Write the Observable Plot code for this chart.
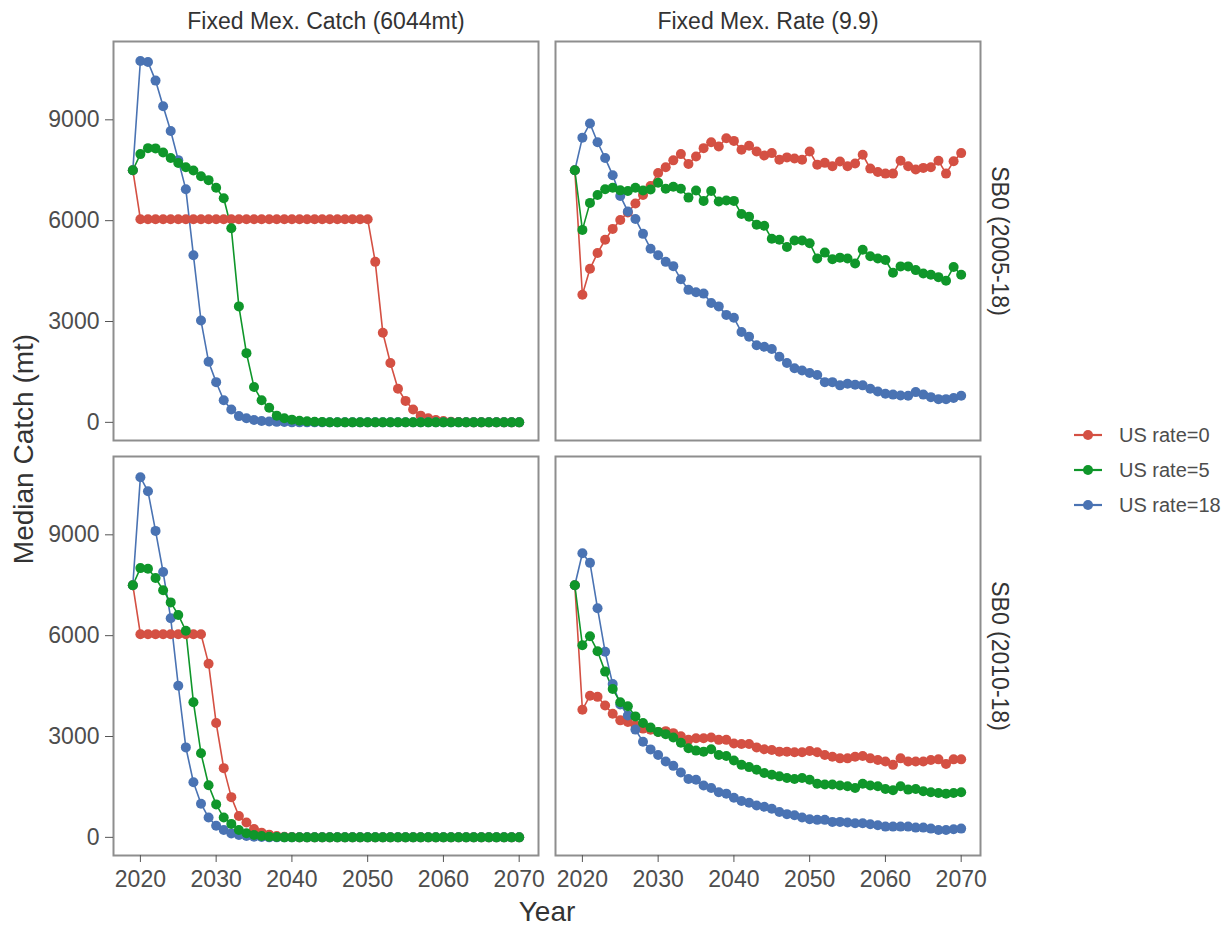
<!DOCTYPE html>
<html>
<head>
<meta charset="utf-8">
<script src="https://cdn.jsdelivr.net/npm/d3@7"></script>
<script src="https://cdn.jsdelivr.net/npm/@observablehq/plot@0.6"></script>
<style>
  html, body { margin: 0; padding: 0; background: #fff; }
  #wrap { position: relative; width: 1230px; height: 930px; font-family: "Liberation Sans", Arial, sans-serif; }
  #chart { position: absolute; left: 0; top: 0; }
  .ytitle { position: absolute; left: 24px; top: 449px; transform: translate(-50%, -50%) rotate(-90deg); font-size: 28px; line-height: 32px; color: #333; white-space: nowrap; }
  .xtitle { position: absolute; left: 547px; top: 912px; transform: translate(-50%, -50%); font-size: 28px; line-height: 32px; color: #333; white-space: nowrap; }
  #legend { position: absolute; left: 1074px; top: 417.5px; }
  .item { display: flex; align-items: center; height: 35px; font-size: 20px; color: #4d4d4d; }
  .item svg { margin-right: 17px; display: block; }
</style>
</head>
<body>
<div id="wrap">
  <div id="chart"></div>
  <div class="ytitle">Median Catch (mt)</div>
  <div class="xtitle">Year</div>
  <div id="legend"></div>
</div>
<script>
// ---- categories ----
const mexLabels = ["Fixed Mex. Catch (6044mt)", "Fixed Mex. Rate (9.9)"];
const sb0Labels = ["SB0 (2005-18)", "SB0 (2010-18)"];
const usLabels = ["US rate=0", "US rate=5", "US rate=18"];
const colors = ["#d45043", "#0f962a", "#4a73b3"];
const years = d3.range(2019, 2071);
const xTicks = [2020, 2030, 2040, 2050, 2060, 2070];
const yTicks = [0, 3000, 6000, 9000];

// ---- series values (2019..2070) ----
// Fixed Mex. Catch, SB0 (2005-18)
const catch05_us0 = [7500,
  6044,6044,6044,6044,6044,6044,6044,6044,6044,6044,
  6044,6044,6044,6044,6044,6044,6044,6044,6044,6044,
  6044,6044,6044,6044,6044,6044,6044,6044,6044,6044,6044,
  4774,2667,1765,1000,638,382,200,120,70,40,20,10,
  0,0,0,0,0,0,0,0];
const catch05_us5 = [7500,7980,8157,8150,8030,7862,7715,7588,7490,7323,
  7205,6980,6667,5774,3450,2059,1050,657,432,200,
  120,80,50,30,20,10,
  0,0,0,0,0,0,0,0,0,0,0,0,0,0,0,0,0,0,0,0,0,0,0,0,0,0];
const catch05_us18 = [7500,10750,10720,10167,9402,8667,7800,6932,4970,3029,
  1804,1196,657,382,186,120,70,40,25,15,10,
  0,0,0,0,0,0,0,0,0,0,0,0,0,0,0,0,0,0,0,0,0,0,0,0,0,0,0,0,0,0,0];
// Fixed Mex. Rate, SB0 (2005-18)
const rate05_us0 = [7500,3794,4568,5038,5431,5755,6020,6245,6510,6764,
  7029,7420,7588,7794,7980,7685,7911,8157,8333,8206,
  8450,8373,8108,8226,8058,7941,8010,7814,7882,7850,
  7814,8058,7667,7720,7617,7760,7617,7700,7961,7549,
  7450,7400,7400,7785,7617,7520,7570,7590,7785,7400,
  7765,8010];
const rate05_us5 = [7500,5725,6529,6764,6932,6980,6902,6880,6980,6900,
  6930,7127,6950,7010,6950,6686,6900,6588,6880,6570,
  6600,6588,6196,6120,5882,5850,5460,5430,5215,5410,
  5410,5330,4872,5050,4850,4900,4872,4725,5137,4940,
  4872,4830,4450,4640,4640,4529,4430,4390,4320,4215,
  4620,4390];
const rate05_us18 = [7500,8470,8892,8333,7862,7353,6735,6274,6050,5608,
  5167,4970,4774,4647,4255,3941,3870,3830,3550,3450,
  3197,3110,2686,2550,2294,2250,2180,1951,1765,1608,
  1540,1470,1410,1196,1196,1100,1150,1120,1100,1000,
  920,850,825,800,790,900,825,750,690,690,
  725,790];
// Fixed Mex. Catch, SB0 (2010-18)
const catch10_us0 = [7500,
  6044,6044,6044,6044,6044,6044,6044,6044,6044,
  5167,3402,2059,1196,637,441,250,140,80,40,20,10,
  0,0,0,0,0,0,0,0,0,0,0,0,0,0,0,0,0,0,0,0,0,0,0,0,0,0,0,0,0,0];
const catch10_us5 = [7500,8010,7990,7715,7353,6990,6617,6147,4020,2500,
  1550,980,588,400,216,120,70,40,20,10,
  0,0,0,0,0,0,0,0,0,0,0,0,0,0,0,0,0,0,0,0,0,0,0,0,0,0,0,0,0,0,0,0];
const catch10_us18 = [7500,10715,10294,9117,7892,6520,4510,2676,1638,1000,
  588,343,216,118,70,40,20,10,
  0,0,0,0,0,0,0,0,0,0,0,0,0,0,0,0,0,0,0,0,0,0,0,0,0,0,0,0,0,0,0,0,0,0];
// Fixed Mex. Rate, SB0 (2010-18)
const rate10_us0 = [7500,3794,4215,4180,3920,3676,3480,3430,3333,3235,
  3200,3137,3160,3100,3010,2900,2950,2950,2970,2900,
  2900,2794,2775,2775,2676,2620,2600,2550,2550,2530,
  2530,2570,2530,2450,2400,2350,2350,2400,2420,2350,
  2303,2255,2157,2350,2255,2255,2255,2300,2320,2180,
  2320,2320];
const rate10_us5 = [7500,5715,5980,5538,4931,4412,4020,3900,3598,3400,
  3265,3137,3070,2970,2814,2650,2580,2550,2620,2450,
  2420,2284,2157,2090,2010,1912,1860,1814,1765,1735,
  1765,1715,1597,1570,1570,1540,1520,1470,1597,1540,
  1520,1440,1400,1520,1420,1440,1370,1340,1320,1300,
  1320,1340];
const rate10_us18 = [7500,8450,8166,6814,5520,4559,3950,3627,3205,2843,
  2617,2450,2255,2127,1930,1735,1715,1540,1470,1340,
  1300,1176,1080,1030,950,910,850,755,690,660,
  590,540,520,520,460,460,440,420,420,390,
  360,320,320,320,320,290,290,260,220,220,
  240,260];

// ---- build table (drawing order: rate=0, rate=18, rate=5) ----
const seriesList = [
  [mexLabels[0], sb0Labels[0], usLabels[0], catch05_us0],
  [mexLabels[0], sb0Labels[0], usLabels[2], catch05_us18],
  [mexLabels[0], sb0Labels[0], usLabels[1], catch05_us5],
  [mexLabels[1], sb0Labels[0], usLabels[0], rate05_us0],
  [mexLabels[1], sb0Labels[0], usLabels[2], rate05_us18],
  [mexLabels[1], sb0Labels[0], usLabels[1], rate05_us5],
  [mexLabels[0], sb0Labels[1], usLabels[0], catch10_us0],
  [mexLabels[0], sb0Labels[1], usLabels[2], catch10_us18],
  [mexLabels[0], sb0Labels[1], usLabels[1], catch10_us5],
  [mexLabels[1], sb0Labels[1], usLabels[0], rate10_us0],
  [mexLabels[1], sb0Labels[1], usLabels[2], rate10_us18],
  [mexLabels[1], sb0Labels[1], usLabels[1], rate10_us5]
];
const data = [];
for (const [mex, sb0, us, vals] of seriesList) {
  vals.forEach((v, i) => data.push({mex, sb0, us, year: years[i], value: v}));
}

const chart = Plot.plot({
  width: 1020,
  height: 930,
  marginTop: 41,
  marginBottom: 74,
  marginLeft: 113,
  marginRight: 40,
  style: {fontFamily: "'Liberation Sans', Arial, sans-serif", fontSize: "23px", color: "#4d4d4d", background: "#fff", overflow: "visible"},
  x: {domain: [2016.45, 2072.55], label: null},
  y: {domain: [-540, 11330], label: null},
  fx: {domain: mexLabels, paddingInner: 0.0385, paddingOuter: 0, label: null},
  fy: {domain: sb0Labels, paddingInner: 0.0385, paddingOuter: 0, label: null},
  color: {domain: usLabels, range: colors},
  marks: [
    Plot.line(data, {x: "year", y: "value", stroke: "us", z: "us", fx: "mex", fy: "sb0", strokeWidth: 1.6}),
    Plot.dot(data, {x: "year", y: "value", fill: "us", fx: "mex", fy: "sb0", r: 5}),
    Plot.frame({stroke: "#8e8e8e", strokeWidth: 2}),
    Plot.axisX({anchor: "bottom", ticks: xTicks, tickFormat: d => String(d), tickSize: 7, tickPadding: 8, stroke: "#555", fill: "#4d4d4d", label: null}),
    Plot.axisY({anchor: "left", ticks: yTicks, tickFormat: d => String(d), tickSize: 8, tickPadding: 6, stroke: "#555", fill: "#4d4d4d", label: null}),
    Plot.axisFx({anchor: "top", tickSize: 0, tickPadding: 13, fill: "#333", label: null}),
    Plot.axisFy({anchor: "right", tickSize: 0, tickPadding: 28, tickRotate: 90, fill: "#333", label: null})
  ]
});
document.getElementById("chart").appendChild(chart);

// ---- legend ----
const legend = document.getElementById("legend");
usLabels.forEach((lab, i) => {
  const row = document.createElement("div");
  row.className = "item";
  row.innerHTML = `<svg width="28" height="14"><line x1="0" x2="28" y1="7" y2="7" stroke="${colors[i]}" stroke-width="2.2"/><circle cx="14" cy="7" r="5" fill="${colors[i]}"/></svg><span>${lab}</span>`;
  legend.appendChild(row);
});
</script>
</body>
</html>
